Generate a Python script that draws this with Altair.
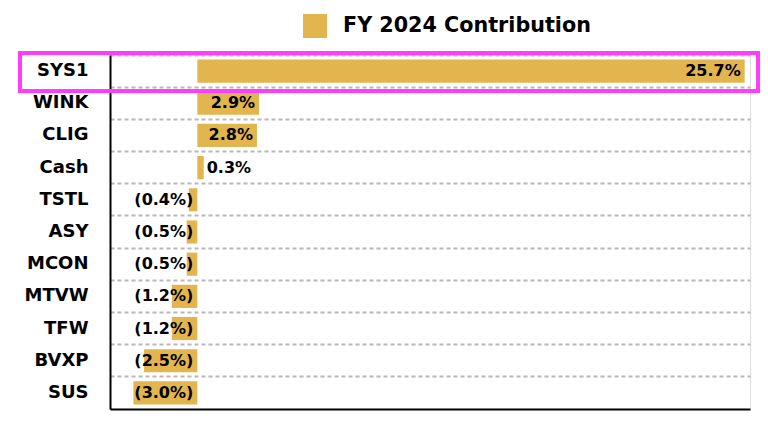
import altair as alt
import pandas as pd

tickers = ["SYS1", "WINK", "CLIG", "Cash", "TSTL", "ASY", "MCON", "MTVW", "TFW", "BVXP", "SUS"]
values = [25.7, 2.9, 2.8, 0.3, -0.4, -0.5, -0.5, -1.2, -1.2, -2.5, -3.0]
series_name = "FY 2024 Contribution"
highlight = "SYS1"

df = pd.DataFrame({"t": tickers, "v": values})

FONT = "DejaVu Sans"
BAR = "#E3B54F"

base = alt.Chart(df).transform_calculate(
    series=f"'{series_name}'",
    lab="datum.v < 0 ? '(' + format(-datum.v, '.1f') + '%)' : format(datum.v, '.1f') + '%'",
    anchor="max(datum.v, 0)",
)

y_enc = alt.Y(
    "t:N",
    sort=tickers,
    scale=alt.Scale(paddingInner=0, paddingOuter=0),
    axis=alt.Axis(
        title=None, ticks=False, grid=True, bandPosition=0,
        gridDash=[4, 3], gridColor="#B8B8B8", gridWidth=2,
        domainColor="#000000", domainWidth=2,
        labelFont=FONT, labelFontSize=18, labelFontWeight="bold",
        labelColor="#000000", labelPadding=22,
    ),
)
x_scale = alt.Scale(domain=[-4.1, 25.95], nice=False, zero=False)
x_axis = alt.Axis(title=None, labels=False, ticks=False, grid=False,
                  domainColor="#000000", domainWidth=2)

bars = base.mark_bar(height=alt.RelativeBandSize(0.72)).encode(
    y=y_enc,
    x=alt.X("v:Q", scale=x_scale, axis=x_axis),
    x2=alt.datum(0),
    color=alt.Color(
        "series:N",
        scale=alt.Scale(range=[BAR]),
        legend=alt.Legend(
            title=None, orient="none", legendX=193, legendY=-41,
            symbolType="square", symbolSize=576, symbolStrokeWidth=0,
            symbolOpacity=1, labelFont=FONT, labelFontSize=20.7,
            labelFontWeight="bold", labelColor="#000000", labelOffset=16,
            labelLimit=400, padding=0,
        ),
    ),
)

lab_right = base.transform_filter("datum.v >= 1 || datum.v < 0").mark_text(
    align="right", baseline="middle", dx=-4, font=FONT, fontSize=16,
    fontWeight="bold", color="#000000",
).encode(y=alt.Y("t:N", sort=tickers), x=alt.X("anchor:Q"), text="lab:N")

lab_left = base.transform_filter("datum.v >= 0 && datum.v < 1").mark_text(
    align="left", baseline="middle", dx=3, font=FONT, fontSize=16,
    fontWeight="bold", color="#000000",
).encode(y=alt.Y("t:N", sort=tickers), x=alt.X("anchor:Q"), text="lab:N")

box = base.transform_filter(f"datum.t == '{highlight}'").mark_rect(
    fill=None, filled=False, stroke="#FF3DFF", strokeWidth=4
).encode(
    x=alt.value(-90), x2=alt.value(648), y=alt.value(-2), y2=alt.value(36)
)

chart = alt.layer(bars, lab_right, lab_left, box).properties(
    width=640, height=354,
    autosize=alt.AutoSizeParams(type="none"),
    padding={"left": 102, "top": 47, "right": 10, "bottom": 15},
).configure_view(stroke=None).configure(background="#ffffff")

chart.save("out.html", embed_options={"renderer": "svg", "actions": False})
